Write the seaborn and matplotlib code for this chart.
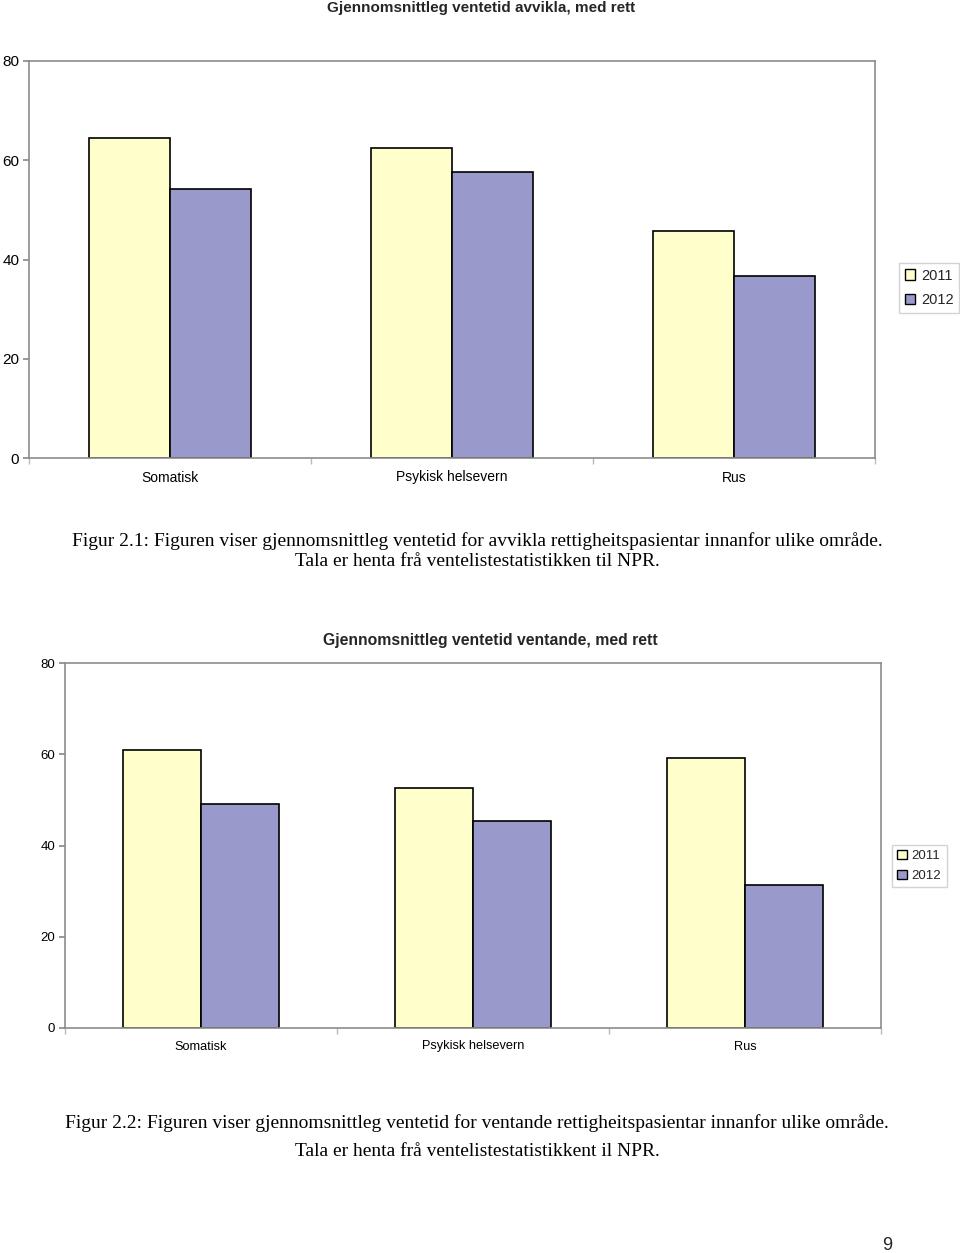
import pandas as pd
import matplotlib.pyplot as plt
from matplotlib.patches import Patch
import seaborn as sns

# data
omraade = ['Somatisk', 'Psykisk helsevern', 'Rus']
aar = ['2011', '2012']
avvikla_2011 = [64.5, 62.5, 45.7]
avvikla_2012 = [54.2, 57.6, 36.6]
ventande_2011 = [60.9, 52.7, 59.2]
ventande_2012 = [49.2, 45.3, 31.3]

COLORS = {'2011': '#FFFFCC', '2012': '#9999CC'}
GREY = '#8c8c8c'

sns.set_theme(style='white')
plt.rcParams['font.family'] = ['Liberation Sans', 'DejaVu Sans']


def long_frame(v2011, v2012):
    return pd.DataFrame({
        'omraade': omraade * 2,
        'aar': ['2011'] * 3 + ['2012'] * 3,
        'ventetid': list(v2011) + list(v2012),
    })


def draw(ax, df, labsize, ysize, legend_pos, legsize, legspace):
    sns.barplot(data=df, x='omraade', y='ventetid', hue='aar',
                hue_order=aar, order=omraade, palette=COLORS,
                width=0.5714, gap=0, edgecolor='black', linewidth=1.2,
                saturation=1, errorbar=None, legend=False, ax=ax)
    ax.set_xlim(-0.5, 2.5)
    ax.set_ylim(0, 80)
    ax.set_yticks([0, 20, 40, 60, 80])
    ax.set_xlabel('')
    ax.set_ylabel('')
    for s in ax.spines.values():
        s.set_visible(True)
        s.set_color(GREY)
        s.set_linewidth(1.2)
    ax.tick_params(axis='y', left=True, length=4, color=GREY,
                   labelsize=ysize, labelcolor='black', pad=3)
    ax.tick_params(axis='x', which='major', length=0,
                   labelsize=labsize, labelcolor='black', pad=9)
    ax.set_xticks([-0.5, 0.5, 1.5, 2.5], minor=True)
    ax.tick_params(axis='x', which='minor', bottom=True, length=4,
                   color='#bbbbbb')
    handles = [Patch(facecolor=COLORS[a], edgecolor='black', lw=1)
               for a in aar]
    leg = ax.figure.legend(handles, aar, loc='center left',
                           bbox_to_anchor=legend_pos, fontsize=legsize,
                           frameon=True, fancybox=False,
                           handlelength=0.7, handleheight=0.7,
                           handletextpad=0.4, borderpad=0.4,
                           labelspacing=legspace, borderaxespad=0)
    leg.get_frame().set_edgecolor('#c8c8c8')
    leg.get_frame().set_linewidth(1)


fig = plt.figure(figsize=(9.6, 12.53), dpi=100)

ax1 = fig.add_axes([29 / 960, 1 - 458 / 1253, 846 / 960, 397 / 1253])
draw(ax1, long_frame(avvikla_2011, avvikla_2012), 10, 11,
     (899 / 960, 1 - 288 / 1253), 10.5, 0.75)
fig.text(481 / 960, 1 - 8 / 1253, 'Gjennomsnittleg ventetid avvikla, med rett',
         ha='center', va='center', fontsize=11, fontweight='bold')

ax2 = fig.add_axes([65 / 960, 1 - 1028 / 1253, 816 / 960, 365 / 1253])
draw(ax2, long_frame(ventande_2011, ventande_2012), 9.2, 9.5,
     (892 / 960, 1 - 866 / 1253), 9.5, 0.6)
fig.text(490 / 960, 1 - 641 / 1253, 'Gjennomsnittleg ventetid ventande, med rett',
         ha='center', va='center', fontsize=11.3, fontweight='bold')

serif = ['Liberation Serif', 'DejaVu Serif']
cap = dict(ha='center', va='center', fontsize=14, family=serif,
           color='black')
fig.text(477 / 960, 1 - 541 / 1253,
         'Figur 2.1: Figuren viser gjennomsnittleg ventetid for avvikla '
         'rettigheitspasientar innanfor ulike område.', **cap)
fig.text(477 / 960, 1 - 561 / 1253,
         'Tala er henta frå ventelistestatistikken til NPR.', **cap)
fig.text(477 / 960, 1 - 1123 / 1253,
         'Figur 2.2: Figuren viser gjennomsnittleg ventetid for ventande '
         'rettigheitspasientar innanfor ulike område.', **cap)
fig.text(477 / 960, 1 - 1151 / 1253,
         'Tala er henta frå ventelistestatistikkent il NPR.', **cap)
fig.text(887 / 960, 1 - 1245 / 1253, '9', ha='center', va='center',
         fontsize=13)

fig.savefig('out.png', dpi=100)
